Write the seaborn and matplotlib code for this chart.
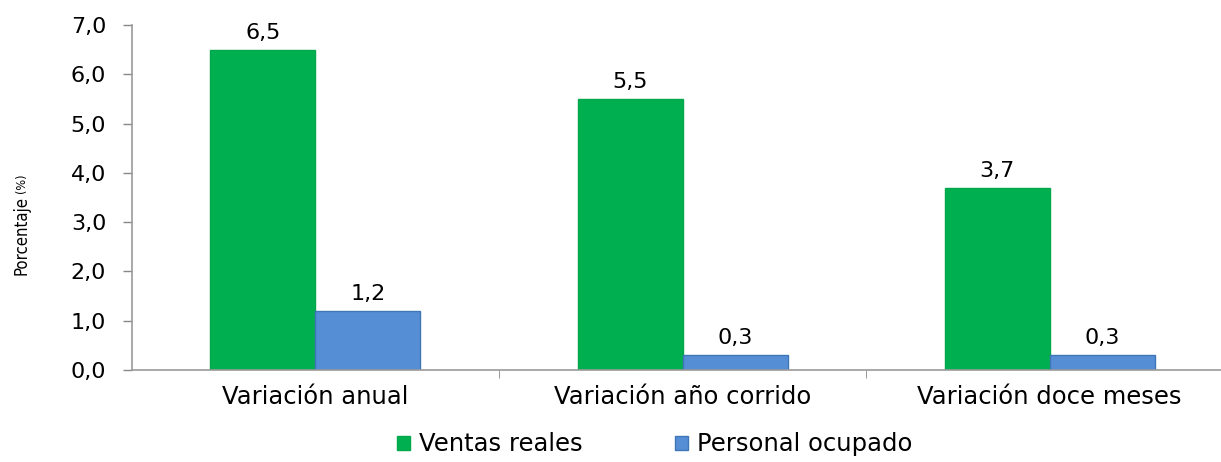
import matplotlib
matplotlib.use("Agg")
import matplotlib.pyplot as plt
import seaborn as sns
import pandas as pd
from matplotlib.ticker import FixedLocator, FuncFormatter
from matplotlib.patches import Patch

categories = ["Variación anual", "Variación año corrido", "Variación doce meses"]
ventas_reales = [6.5, 5.5, 3.7]
personal_ocupado = [1.2, 0.3, 0.3]
series_names = ["Ventas reales", "Personal ocupado"]
y_ticks = [0, 1, 2, 3, 4, 5, 6, 7]

# long format for seaborn
df = pd.DataFrame({
    "categoria": categories * 2,
    "serie": [series_names[0]] * 3 + [series_names[1]] * 3,
    "valor": ventas_reales + personal_ocupado,
})

sns.set_style("white")
plt.rcParams['font.family'] = ['DejaVu Sans']
plt.rcParams['text.color'] = 'black'
plt.rcParams['xtick.color'] = 'black'
plt.rcParams['ytick.color'] = 'black'

fig = plt.figure(figsize=(12.21, 4.62), dpi=100)
ax = fig.add_axes([0.108, 0.199, 0.902, 0.747])

palette = {"Ventas reales": "#00B050", "Personal ocupado": "#558ED5"}
sns.barplot(data=df, x="categoria", y="valor", hue="serie", order=categories,
            hue_order=series_names, palette=palette, width=0.572,
            saturation=1, ax=ax, legend=False)

edges = ["#00A84B", "#3F76B8"]
for cont, ec in zip(ax.containers, edges):
    for bar in cont:
        bar.set_edgecolor(ec)
        bar.set_linewidth(1.0)
    ax.bar_label(cont, labels=[f"{v:.1f}".replace(".", ",") for v in cont.datavalues],
                 padding=5, fontsize=16, color="black")

ax.set_xlim(-0.5, 2.5)
ax.set_ylim(0, 7)
ax.yaxis.set_major_locator(FixedLocator(y_ticks))
ax.yaxis.set_major_formatter(FuncFormatter(lambda v, p: f"{v:.1f}".replace(".", ",")))
ax.tick_params(axis="y", labelsize=16, length=6.5, color="#888888", left=True,
               width=1, pad=12)
ax.tick_params(axis="x", labelsize=17.5, length=0, pad=11)
ax.xaxis.set_minor_locator(FixedLocator([0.5, 1.5]))
ax.tick_params(axis="x", which="minor", length=6, color="#888888", bottom=True)
ax.set_xlabel("")
ax.set_ylabel("")

for side in ["top", "right"]:
    ax.spines[side].set_visible(False)
for side in ["left", "bottom"]:
    ax.spines[side].set_color("#999999")
    ax.spines[side].set_linewidth(1.2)

# y label, condensed with smaller (%)
t1 = fig.text(0.010, 0.405, "Porcentaje", rotation=90, va="bottom", ha="left",
              fontsize=12, fontstretch="condensed")
fig.canvas.draw()
bb = t1.get_window_extent(fig.canvas.get_renderer())
fig.text(0.012, (bb.y1 + 3) / fig.bbox.height, "(%)", rotation=90, va="bottom",
         ha="left", fontsize=9, fontstretch="condensed")

handles = [Patch(facecolor=palette[s], edgecolor=ec) for s, ec in zip(series_names, edges)]
fig.legend(handles, series_names, loc="center", bbox_to_anchor=(0.536, 0.038),
           ncol=2, frameon=False, fontsize=17.5, handlelength=0.55, handleheight=0.55,
           handletextpad=0.35, columnspacing=3.8, borderpad=0.1)

fig.savefig("out.png", dpi=100)
